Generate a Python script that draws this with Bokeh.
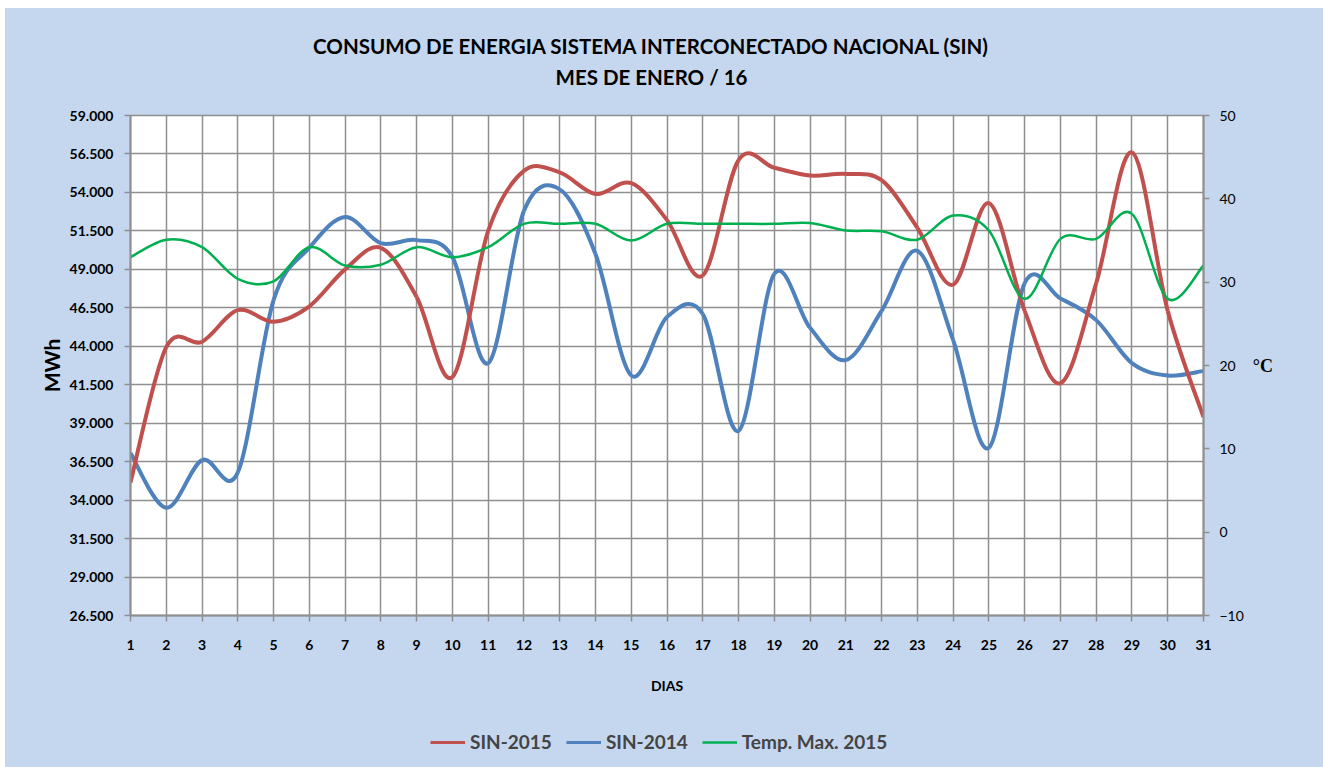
from bokeh.plotting import figure
from bokeh.layouts import column
from bokeh.models import (Range1d, LinearAxis, FixedTicker, Label, Legend, LegendItem,
                          ColumnDataSource)
from bokeh.embed import file_html
from bokeh.resources import INLINE

# ---------------- data ----------------
days = list(range(1, 32))
sin_2015 = [35150, 43950, 44300, 46350, 45600, 46600, 49000, 50400, 47200, 42000,
            51500, 55400, 55300, 53900, 54600, 52200, 48600, 56100, 55600, 55100,
            55200, 54800, 51700, 48000, 53300, 46300, 41600, 48100, 56600, 46300,
            39400]
sin_2014 = [37050, 33500, 36600, 35800, 47000, 50400, 52400, 50700, 50900, 49800,
            42900, 52800, 54200, 50000, 42100, 45900, 46100, 38500, 48700, 45200,
            43100, 46300, 50200, 44400, 37400, 48100, 47100, 45700, 42900, 42100,
            42400]
temp_max_2015 = [33.0, 35.1, 34.2, 30.4, 30.1, 34.2, 32.0, 32.1, 34.2, 33.0,
                 34.2, 37.0, 37.0, 37.0, 35.0, 37.0, 37.0, 37.0, 37.0, 37.1,
                 36.2, 36.1, 35.1, 38.0, 36.2, 28.0, 35.2, 35.2, 38.2, 28.0,
                 32.0]

left_ticks = [26500, 29000, 31500, 34000, 36500, 39000, 41500, 44000, 46500,
              49000, 51500, 54000, 56500, 59000]
left_tick_labels = ["26.500", "29.000", "31.500", "34.000", "36.500", "39.000",
                    "41.500", "44.000", "46.500", "49.000", "51.500", "54.000",
                    "56.500", "59.000"]
right_ticks = [-10, 0, 10, 20, 30, 40, 50]

title_1 = "CONSUMO DE ENERGIA SISTEMA INTERCONECTADO NACIONAL (SIN)"
title_2 = "MES DE ENERO / 16"
series_names = ["SIN-2015", "SIN-2014", "Temp. Max. 2015"]
colors = ["#c0504d", "#4f81bd", "#00b050"]

FONT = "Lato"
BG = "#c5d7ef"
GRID = "#8f8f8f"
W = 1318


def smooth_source(xs, ys):
    """Control points of a Catmull-Rom style smoothed curve (like a smoothed spreadsheet line)."""
    n = len(xs)
    d = dict(x0=[], y0=[], x1=[], y1=[], cx0=[], cy0=[], cx1=[], cy1=[])
    for i in range(n - 1):
        p0 = (xs[max(i - 1, 0)], ys[max(i - 1, 0)])
        p1 = (xs[i], ys[i])
        p2 = (xs[i + 1], ys[i + 1])
        p3 = (xs[min(i + 2, n - 1)], ys[min(i + 2, n - 1)])
        d["x0"].append(p1[0]); d["y0"].append(p1[1])
        d["x1"].append(p2[0]); d["y1"].append(p2[1])
        d["cx0"].append(p1[0] + (p2[0] - p0[0]) / 6.0)
        d["cy0"].append(p1[1] + (p2[1] - p0[1]) / 6.0)
        d["cx1"].append(p2[0] - (p3[0] - p1[0]) / 6.0)
        d["cy1"].append(p2[1] - (p3[1] - p1[1]) / 6.0)
    return ColumnDataSource(d)


def strip(height):
    s = figure(width=W, height=height, output_backend="svg", toolbar_location=None,
               x_range=Range1d(0, 1), y_range=Range1d(0, 1), min_border=0)
    s.axis.visible = False
    s.grid.visible = False
    s.outline_line_color = None
    s.background_fill_alpha = 0
    s.border_fill_color = BG
    return s


# ---------------- title strip ----------------
top = strip(95)
for txt, yy in ((title_1, 58), (title_2, 27)):
    top.add_layout(Label(x=521, y=yy, x_units="screen", y_units="screen", text=txt,
                         text_font=FONT, text_font_size="20.5px", text_font_style="bold",
                         text_align="center", text_baseline="middle", text_color="black"))

# ---------------- main chart ----------------
p = figure(width=W, height=617, output_backend="svg", toolbar_location=None,
           x_range=Range1d(1, 31), y_range=Range1d(26500, 59000),
           min_border_left=125, min_border_right=120, min_border_top=12,
           min_border_bottom=105, y_axis_location=None, x_axis_location=None)
p.border_fill_color = BG
p.background_fill_color = "white"
p.outline_line_color = GRID
p.outline_line_width = 1.5
p.extra_y_ranges = {"temp": Range1d(-10, 50)}

xaxis = LinearAxis(ticker=FixedTicker(ticks=days), axis_label="DIAS")
yaxis = LinearAxis(ticker=FixedTicker(ticks=left_ticks), axis_label="MWh",
                   major_label_overrides={t: s for t, s in zip(left_ticks, left_tick_labels)})
raxis = LinearAxis(y_range_name="temp", ticker=FixedTicker(ticks=right_ticks),
                   axis_label="°C", axis_label_orientation="horizontal")
for ax in (xaxis, yaxis, raxis):
    ax.axis_line_color = GRID
    ax.axis_line_width = 2
    ax.major_tick_line_color = GRID
    ax.major_tick_line_width = 1.5
    ax.major_tick_out = 6
    ax.major_tick_in = 0
    ax.minor_tick_line_color = None
    ax.major_label_text_font = FONT
    ax.major_label_text_font_size = "14px"
    ax.major_label_text_color = "black"
    ax.axis_label_text_font = FONT
    ax.axis_label_text_color = "black"
    ax.axis_label_text_font_style = "bold"
xaxis.major_label_text_font_style = "bold"
xaxis.major_label_standoff = 18
xaxis.axis_label_standoff = 24
xaxis.axis_label_text_font_size = "14px"
yaxis.major_label_text_font_style = "bold"
yaxis.major_label_standoff = 11
yaxis.axis_label_standoff = 3
yaxis.axis_label_text_font_size = "21px"
raxis.major_label_standoff = 10
raxis.axis_label_standoff = 6
raxis.axis_label_text_font = "Liberation Serif"
raxis.axis_label_text_font_size = "18px"
p.add_layout(xaxis, "below")
p.add_layout(yaxis, "left")
p.add_layout(raxis, "right")

p.xgrid.ticker = FixedTicker(ticks=days)
p.ygrid.ticker = FixedTicker(ticks=left_ticks)
for g in (p.xgrid, p.ygrid):
    g.grid_line_color = GRID
    g.grid_line_width = 1.5
    g.grid_line_alpha = 1.0

p.bezier("x0", "y0", "x1", "y1", "cx0", "cy0", "cx1", "cy1",
         source=smooth_source(days, sin_2014), line_color=colors[1], line_width=4)
p.bezier("x0", "y0", "x1", "y1", "cx0", "cy0", "cx1", "cy1",
         source=smooth_source(days, sin_2015), line_color=colors[0], line_width=4)
p.bezier("x0", "y0", "x1", "y1", "cx0", "cy0", "cx1", "cy1",
         source=smooth_source(days, temp_max_2015), line_color=colors[2], line_width=2.5,
         y_range_name="temp")

# ---------------- legend strip ----------------
lg = strip(47)
items = []
# series drawn outside the strip's view; only their legend swatches show
for name, c, w, vals in zip(series_names, colors, [3, 3, 2.5],
                            [sin_2015, sin_2014, temp_max_2015]):
    r = lg.line(days, vals, line_color=c, line_width=w)
    items.append(LegendItem(label=name, renderers=[r]))
legend = Legend(items=items, orientation="horizontal", location=(300, 14),
                background_fill_alpha=0, border_line_alpha=0, padding=0, margin=0,
                label_text_font=FONT, label_text_font_size="19px",
                label_text_font_style="bold", glyph_width=35, label_standoff=5,
                spacing=14, label_height=20, glyph_height=20)
lg.add_layout(legend, "center")

layout = column(top, p, lg, spacing=0, margin=(8, 0, 0, 5),
                styles={"background-color": BG})
open("out.html", "w").write(file_html(layout, INLINE))
